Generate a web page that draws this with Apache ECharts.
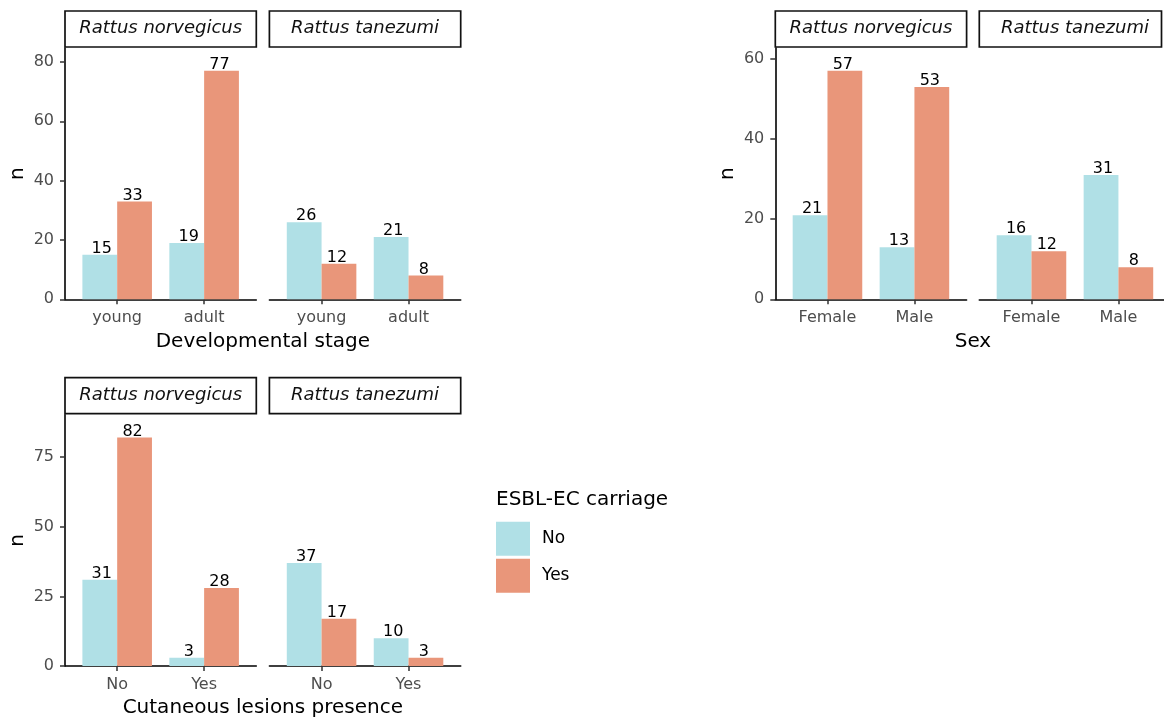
<!DOCTYPE html>
<html>
<head>
<meta charset="utf-8">
<title>ESBL-EC carriage in Rattus species</title>
<script src="https://cdn.jsdelivr.net/npm/echarts@6/dist/echarts.min.js"></script>
<style>
  html, body { margin: 0; padding: 0; background: #fff; }
  #chart { width: 1164px; height: 720px; }
</style>
</head>
<body>
<div id="chart"></div>
<script>
// ---- data ----
const speciesNames = ['Rattus norvegicus', 'Rattus tanezumi'];
const carriageLevels = ['No', 'Yes'];

const stageCats = ['young', 'adult'];
const stageNorvNo = [15, 19];
const stageNorvYes = [33, 77];
const stageTaneNo = [26, 21];
const stageTaneYes = [12, 8];
const stageTicks = [0, 20, 40, 60, 80];

const sexCats = ['Female', 'Male'];
const sexNorvNo = [21, 13];
const sexNorvYes = [57, 53];
const sexTaneNo = [16, 31];
const sexTaneYes = [12, 8];
const sexTicks = [0, 20, 40, 60];

const lesionCats = ['No', 'Yes'];
const lesionNorvNo = [31, 3];
const lesionNorvYes = [82, 28];
const lesionTaneNo = [37, 10];
const lesionTaneYes = [17, 3];
const lesionTicks = [0, 25, 50, 75];

// ---- styling / layout ----
const FONT = '"DejaVu Sans", "Liberation Sans", Arial, sans-serif';
const COLOR_NO = '#B0E0E6';
const COLOR_YES = '#E9967A';
const FACET_W = 191.3;
const PANEL_H = 251.3;

const panels = [
  { cats: stageCats, no: [stageNorvNo, stageTaneNo], yes: [stageNorvYes, stageTaneYes],
    ticks: stageTicks, title: 'Developmental stage', lefts: [65, 269.4], top: 48, stripRight: [null, null] },
  { cats: sexCats, no: [sexNorvNo, sexTaneNo], yes: [sexNorvYes, sexTaneYes],
    ticks: sexTicks, title: 'Sex', lefts: [775.3, 979.3], top: 48, stripRight: [null, 1161.5] },
  { cats: lesionCats, no: [lesionNorvNo, lesionTaneNo], yes: [lesionNorvYes, lesionTaneYes],
    ticks: lesionTicks, title: 'Cutaneous lesions presence', lefts: [65, 269.4], top: 414.7, stripRight: [null, null] }
];

const axisLineStyle = { color: '#000', width: 1.6 };
const tickLineStyle = { color: '#333', width: 1.5 };
const tickText = { color: '#4d4d4d', fontSize: 16, fontFamily: FONT };

const grids = [], xAxes = [], yAxes = [], series = [], graphics = [];

function barLabel(dx) {
  return {
    show: true, position: 'top', distance: -2, offset: [dx, 0],
    color: '#000', fontSize: 16, fontFamily: FONT
  };
}

panels.forEach(function (p) {
  const all = [].concat(p.no[0], p.no[1], p.yes[0], p.yes[1]);
  const yMax = Math.max.apply(null, all) * 1.1;
  const bottom = p.top + PANEL_H;

  for (let f = 0; f < 2; f++) {
    const idx = grids.length;
    const left = p.lefts[f];
    grids.push({
      left: left, top: p.top, width: FACET_W, height: PANEL_H,
      containLabel: false, outerBoundsMode: 'none'
    });
    xAxes.push({
      type: 'value', gridIndex: idx, min: 0.4, max: 2.6,
      axisLine: { show: true, onZero: true, lineStyle: axisLineStyle },
      axisTick: { show: true, customValues: [1, 2], length: 5, lineStyle: tickLineStyle },
      axisLabel: Object.assign({
        customValues: [1, 2], margin: 11,
        formatter: function (v) { return p.cats[Math.round(v) - 1]; }
      }, tickText),
      splitLine: { show: false }
    });
    yAxes.push({
      type: 'value', gridIndex: idx, min: 0, max: yMax,
      axisLine: { show: f === 0, lineStyle: axisLineStyle },
      axisTick: { show: f === 0, customValues: p.ticks, length: 5, lineStyle: tickLineStyle },
      axisLabel: Object.assign({ show: f === 0, customValues: p.ticks, margin: 11 }, tickText),
      splitLine: { show: false }
    });
    series.push({
      type: 'bar', name: carriageLevels[0], xAxisIndex: idx, yAxisIndex: idx,
      data: p.no[f].map(function (v, i) { return [i + 1, v]; }),
      barWidth: '40%', barGap: '0%',
      itemStyle: { color: COLOR_NO },
      label: barLabel(2)
    });
    series.push({
      type: 'bar', name: carriageLevels[1], xAxisIndex: idx, yAxisIndex: idx,
      data: p.yes[f].map(function (v, i) { return [i + 1, v]; }),
      barWidth: '40%', barGap: '0%',
      itemStyle: { color: COLOR_YES },
      label: barLabel(-2)
    });

    // facet strip
    const stripRight = p.stripRight[f] != null ? p.stripRight[f] : left + FACET_W;
    graphics.push({
      type: 'rect', silent: true,
      shape: { x: left, y: p.top - 37, width: stripRight - left, height: 36 },
      style: { fill: '#fff', stroke: '#111', lineWidth: 1.7 }
    });
    graphics.push({
      type: 'text', silent: true,
      x: left + FACET_W / 2, y: p.top - 19.5,
      style: {
        text: speciesNames[f], fill: '#111',
        font: 'italic 18px ' + FONT,
        align: 'center', verticalAlign: 'middle',
        textAlign: 'center', textVerticalAlign: 'middle'
      }
    });
  }

  // shared x title across both facets
  graphics.push({
    type: 'text', silent: true,
    x: (p.lefts[0] + p.lefts[1] + FACET_W) / 2, y: bottom + 42,
    style: {
      text: p.title, fill: '#000', font: '20px ' + FONT,
      align: 'center', verticalAlign: 'middle',
      textAlign: 'center', textVerticalAlign: 'middle'
    }
  });
  // y title
  graphics.push({
    type: 'text', silent: true,
    x: p.lefts[0] - 47.5, y: p.top + PANEL_H / 2, rotation: Math.PI / 2,
    style: {
      text: 'n', fill: '#000', font: '20px ' + FONT,
      align: 'center', verticalAlign: 'middle',
      textAlign: 'center', textVerticalAlign: 'middle'
    }
  });
});

// legend title
graphics.push({
  type: 'text', silent: true, x: 496, y: 499.5,
  style: {
    text: 'ESBL-EC carriage', fill: '#000', font: '20px ' + FONT,
    align: 'left', verticalAlign: 'middle',
    textAlign: 'left', textVerticalAlign: 'middle'
  }
});

const chart = echarts.init(document.getElementById('chart'), null, { renderer: 'canvas' });
chart.setOption({
  animation: false,
  backgroundColor: '#fff',
  textStyle: { fontFamily: FONT },
  grid: grids,
  xAxis: xAxes,
  yAxis: yAxes,
  series: series,
  legend: {
    data: carriageLevels, orient: 'vertical', left: 496, top: 521.7,
    itemWidth: 34, itemHeight: 34, itemGap: 3, icon: 'rect', padding: 0,
    selectedMode: false,
    textStyle: { color: '#000', fontSize: 17, fontFamily: FONT, padding: [0, 0, 0, 7] }
  },
  graphic: graphics
});
</script>
</body>
</html>
